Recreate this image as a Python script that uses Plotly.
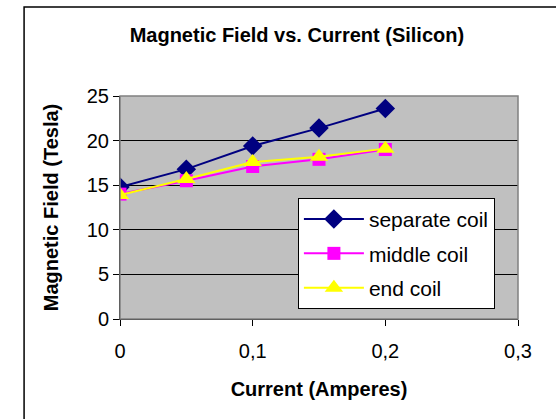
import plotly.graph_objects as go

current = [0, 0.05, 0.1, 0.15, 0.2]
separate_coil = [14.8, 16.8, 19.4, 21.4, 23.6]
middle_coil = [14.0, 15.5, 17.1, 17.9, 19.0]
end_coil = [13.9, 15.7, 17.6, 18.2, 19.1]

fig = go.Figure()
fig.add_scatter(x=current, y=separate_coil, mode='lines+markers', name='separate coil',
                legendgroup='a',
                line=dict(color='#000080', width=2),
                marker=dict(symbol='diamond', size=15, color='#000080'))
fig.add_scatter(x=current, y=middle_coil, mode='lines+markers', name='middle coil',
                legendgroup='b',
                line=dict(color='#ff00ff', width=2),
                marker=dict(symbol='square', size=13, color='#ff00ff'))
fig.add_scatter(x=current, y=end_coil, mode='lines+markers', name='end coil',
                legendgroup='c',
                line=dict(color='#ffff00', width=2),
                marker=dict(symbol='triangle-up', size=16, color='#ffff00'))

fig.update_layout(
    width=556, height=419,
    margin=dict(l=120, r=38, t=96, b=100),
    paper_bgcolor='white', plot_bgcolor='#c0c0c0',
    font=dict(family='Arial, Liberation Sans', size=20, color='black'),
    title=dict(text='<b>Magnetic Field vs. Current (Silicon)</b>', x=0.534, xanchor='center',
               y=0.916, yanchor='middle', font=dict(size=20)),
    showlegend=True,
    legend=dict(x=0.447, y=0.543, xanchor='left', yanchor='top', bgcolor='white',
                bordercolor='black', borderwidth=1, font=dict(size=21),
                itemwidth=60, tracegroupgap=4, traceorder='grouped'),
    shapes=[
        dict(type='rect', xref='paper', yref='paper', x0=-0.241, x1=1.3, y0=-0.6, y1=1.399,
             line=dict(color='black', width=1.5), layer='below'),
        dict(type='rect', xref='paper', yref='paper', x0=0, x1=1, y0=0, y1=1,
             line=dict(color='#808080', width=1.5)),
    ],
)
fig.update_xaxes(range=[0, 0.3], tickvals=[0, 0.1, 0.2, 0.3], ticktext=['0', '0,1', '0,2', '0,3'],
                 showgrid=False, zeroline=False, showline=True, linecolor='black',
                 ticks='outside', ticklen=6, tickcolor='black', tickfont=dict(size=20),
                 ticklabelstandoff=8,
                 title=dict(text='<b>Current (Amperes)</b>', font=dict(size=20), standoff=20))
fig.update_yaxes(range=[0, 25], dtick=5, showgrid=True, gridcolor='black', gridwidth=1,
                 zeroline=False, showline=True, linecolor='black',
                 ticks='outside', ticklen=6, tickcolor='black', tickfont=dict(size=20),
                 title=dict(text='<b>Magnetic Field (Tesla)</b>', font=dict(size=20), standoff=22))

fig.write_html("out.html", config={'displayModeBar': False},
               post_script="document.body.style.margin='0';")
